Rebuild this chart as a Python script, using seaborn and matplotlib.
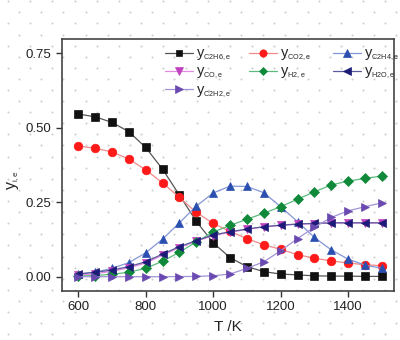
import numpy as np
import pandas as pd
import matplotlib
matplotlib.use("Agg")
import matplotlib.pyplot as plt
import matplotlib._mathtext as _mt
import seaborn as sns

# ---- data ----
T = [600, 650, 700, 750, 800, 850, 900, 950, 1000, 1050,
     1100, 1150, 1200, 1250, 1300, 1350, 1400, 1450, 1500]
y_C2H6 = [0.546, 0.537, 0.518, 0.487, 0.434, 0.361, 0.274, 0.186, 0.114, 0.064,
          0.034, 0.017, 0.009, 0.006, 0.003, 0.002, 0.002, 0.001, 0.001]
y_CO2 = [0.439, 0.431, 0.419, 0.395, 0.359, 0.315, 0.266, 0.216, 0.179, 0.152,
         0.128, 0.107, 0.092, 0.074, 0.062, 0.053, 0.046, 0.040, 0.037]
y_C2H4 = [0.009, 0.015, 0.028, 0.047, 0.080, 0.126, 0.181, 0.237, 0.281, 0.304,
          0.303, 0.282, 0.235, 0.185, 0.132, 0.090, 0.059, 0.039, 0.028]
y_CO = [0.005, 0.010, 0.018, 0.030, 0.046, 0.072, 0.098, 0.119, 0.138, 0.149,
        0.159, 0.167, 0.172, 0.176, 0.178, 0.180, 0.180, 0.180, 0.180]
y_H2 = [0.002, 0.004, 0.008, 0.015, 0.028, 0.052, 0.082, 0.117, 0.150, 0.172,
        0.193, 0.213, 0.235, 0.260, 0.285, 0.308, 0.321, 0.330, 0.338]
y_H2O = [0.009, 0.015, 0.022, 0.034, 0.050, 0.076, 0.101, 0.121, 0.140, 0.151,
         0.160, 0.168, 0.173, 0.177, 0.179, 0.181, 0.181, 0.181, 0.181]
y_C2H2 = [0.000, 0.000, 0.000, 0.000, 0.000, 0.000, 0.0005, 0.001, 0.003, 0.009,
          0.028, 0.050, 0.087, 0.128, 0.166, 0.199, 0.221, 0.235, 0.248]

series_names = ["C2H6", "CO2", "C2H4", "CO", "H2", "H2O", "C2H2"]
series_vals = [y_C2H6, y_CO2, y_C2H4, y_CO, y_H2, y_H2O, y_C2H2]
x_ticks = [600, 800, 1000, 1200, 1400]
y_ticks = [0.00, 0.25, 0.50, 0.75]

# ---- style ----
sns.set_style("ticks")
plt.rcParams["font.family"] = ["Liberation Sans", "DejaVu Sans"]
plt.rcParams["mathtext.fontset"] = "custom"
plt.rcParams["mathtext.rm"] = "Liberation Sans"
plt.rcParams["mathtext.it"] = "Liberation Sans"
_mt.SHRINK_FACTOR = 0.5  # smaller subscripts, as in the reference

styles = {
    "C2H6": dict(marker="s", mc="#111111", lc="#555555", ms=5.2),
    "CO2": dict(marker="o", mc="#ff1a1a", lc="#f08a8a", ms=6.2),
    "C2H4": dict(marker="^", mc="#2a4fb0", lc="#8496d6", ms=6.2),
    "CO": dict(marker="v", mc="#c040c0", lc="#e08ae0", ms=6.2),
    "H2": dict(marker="D", mc="#108a3a", lc="#5cba7e", ms=5.0),
    "H2O": dict(marker="<", mc="#1c1c78", lc="#5a5a9c", ms=6.2),
    "C2H2": dict(marker=">", mc="#6a4ab0", lc="#a394d8", ms=6.2),
}

fig = plt.figure(figsize=(4.0, 3.4), dpi=100)
fig.patch.set_facecolor("white")

# background dotted texture
bg = fig.add_axes([0, 0, 1, 1], zorder=-5)
bg.set_xlim(0, 400)
bg.set_ylim(340, 0)
bg.axis("off")
for r in range(32):
    yy = 1.2 + 11.1 * r
    x0 = 19.0 if r % 2 == 1 else 8.0
    xs = np.arange(x0, 405, 22.2)
    bg.scatter(xs, np.full_like(xs, yy), s=2.2, color="#cfcfcf", linewidths=0)

ax = fig.add_axes([62 / 400, (340 - 290.7) / 340, (394 - 62) / 400, (290.7 - 39) / 340])
ax.set_facecolor("none")

for name, vals in zip(series_names, series_vals):
    st = styles[name]
    sns.lineplot(x=T, y=vals, ax=ax, color=st["lc"], linewidth=0.9,
                 marker=st["marker"], markersize=st["ms"],
                 markerfacecolor=st["mc"], markeredgecolor=st["mc"],
                 markeredgewidth=0.5,
                 label=r"y$_{\mathrm{" + name + r",e}}$")

ax.set_xlim(552, 1536)
ax.set_ylim(-0.047, 0.798)
ax.set_xticks(x_ticks)
ax.set_yticks(y_ticks)
ax.set_yticklabels([f"{v:.2f}" for v in y_ticks])
ax.tick_params(axis="both", direction="out", length=4.5, width=1.0,
               labelsize=9.5, colors="#333333", labelcolor="#222222", pad=3)
for sp in ax.spines.values():
    sp.set_visible(True)
    sp.set_color("#444444")
    sp.set_linewidth(1.2)

ax.set_xlabel("T /K", fontsize=11, labelpad=5, color="#222222")
ax.set_ylabel(r"y$_{\mathrm{i,e}}$", fontsize=11.5, labelpad=6, color="#222222")
ax.yaxis.set_label_coords(-0.12, 0.44)

handles, labels = ax.get_legend_handles_labels()
if ax.get_legend():
    ax.get_legend().remove()
groups = [([0, 3, 6], 165), ([1, 4], 249), ([2, 5], 333)]
legs = []
for idxs, xpx in groups:
    leg = ax.legend([handles[i] for i in idxs], [labels[i] for i in idxs],
                    ncol=1, frameon=False, loc="upper left",
                    bbox_to_anchor=(xpx / 400, 1 - 47 / 340),
                    bbox_transform=fig.transFigure,
                    fontsize=10.5, handlelength=1.9, handletextpad=0.25,
                    labelspacing=0.12, borderaxespad=0, borderpad=0,
                    markerscale=0.85)
    legs.append(leg)
for leg in legs[:-1]:
    ax.add_artist(leg)

fig.savefig("out.png", dpi=100, facecolor="white")
